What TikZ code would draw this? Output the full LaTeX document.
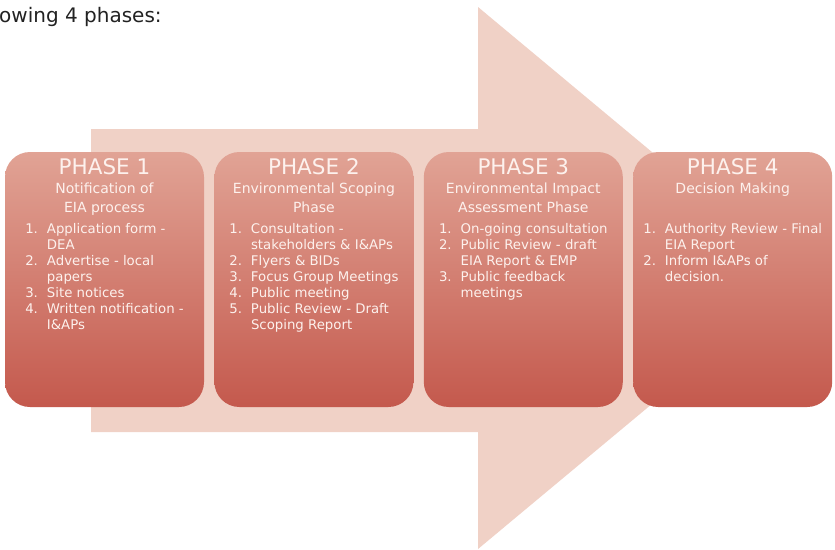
\documentclass[tikz,border=0pt]{standalone}
\usepackage{fontspec}
\setmainfont{DejaVu Sans}
\usetikzlibrary{positioning}
\definecolor{arrowpink}{RGB}{240,209,198}
\definecolor{boxtop}{RGB}{225,163,149}
\definecolor{boxbottom}{RGB}{196,89,77}
\definecolor{boxtext}{RGB}{253,241,237}
\definecolor{introtext}{RGB}{34,34,34}
\newcommand{\PhaseHead}[1]{{\fontsize{21.5}{19}\selectfont PHASE #1}}
\tikzset{
  phasebox/.style={minimum width=199pt, minimum height=255pt, rounded corners=25pt,
    top color=boxtop, bottom color=boxbottom, inner sep=0pt},
  phasetitle/.style={text=boxtext, align=center, anchor=north, inner sep=0pt,
    font=\fontsize{14}{19}\selectfont},
  phaselist/.style={text=boxtext, anchor=north, inner sep=0pt,
    font=\fontsize{13.3}{16}\selectfont}
}

\begin{document}
\begin{tikzpicture}[x=1pt, y=-1pt]
        \useasboundingbox (0,0) rectangle (835,549);
        % intro line
        \node[font=\fontsize{20}{22}\selectfont, text=introtext, anchor=base west, inner sep=0pt] (intro) at (-1,22) {owing 4 phases:};
        % big arrow behind the boxes
        \fill[arrowpink] (91,129) -- (478,129) -- (478,7) -- (803,278) -- (478,549) -- (478,432) -- (91,432) -- cycle;
        % phase boxes
        \node[phasebox] (p1) at (104.5,279.5) {};
        \node[phasebox, right=10pt of p1] (p2) {};
        \node[phasebox, right=10pt of p2] (p3) {};
        \node[phasebox, right=10pt of p3] (p4) {};
        % titles
        \node[phasetitle] (t1) at ([yshift=-7pt]p1.north) {\PhaseHead{1}\\Notification of\\EIA process};
        \node[phasetitle] (t2) at ([yshift=-7pt]p2.north) {\PhaseHead{2}\\Environmental Scoping\\Phase};
        \node[phasetitle] (t3) at ([yshift=-7pt]p3.north) {\PhaseHead{3}\\Environmental Impact\\Assessment Phase};
        \node[phasetitle] (t4) at ([yshift=-7pt]p4.north) {\PhaseHead{4}\\Decision Making};
        % lists
        \node[phaselist] (l1) at ([yshift=-70pt]p1.north) {\begin{tabular}{@{}r@{\hspace{9pt}}l@{}}
          1. & Application form -\\ & DEA\\
          2. & Advertise - local\\ & papers\\
          3. & Site notices\\
          4. & Written notification -\\ & I\&APs
        \end{tabular}};
        \node[phaselist] (l2) at ([yshift=-70pt]p2.north) {\begin{tabular}{@{}r@{\hspace{9pt}}l@{}}
          1. & Consultation -\\ & stakeholders \& I\&APs\\
          2. & Flyers \& BIDs\\
          3. & Focus Group Meetings\\
          4. & Public meeting\\
          5. & Public Review - Draft\\ & Scoping Report
        \end{tabular}};
        \node[phaselist] (l3) at ([yshift=-70pt]p3.north) {\begin{tabular}{@{}r@{\hspace{9pt}}l@{}}
          1. & On-going consultation\\
          2. & Public Review - draft\\ & EIA Report \& EMP\\
          3. & Public feedback\\ & meetings
        \end{tabular}};
        \node[phaselist] (l4) at ([yshift=-70pt]p4.north) {\begin{tabular}{@{}r@{\hspace{9pt}}l@{}}
          1. & Authority Review - Final\\ & EIA Report\\
          2. & Inform I\&APs of\\ & decision.
        \end{tabular}};
\end{tikzpicture}
\end{document}
